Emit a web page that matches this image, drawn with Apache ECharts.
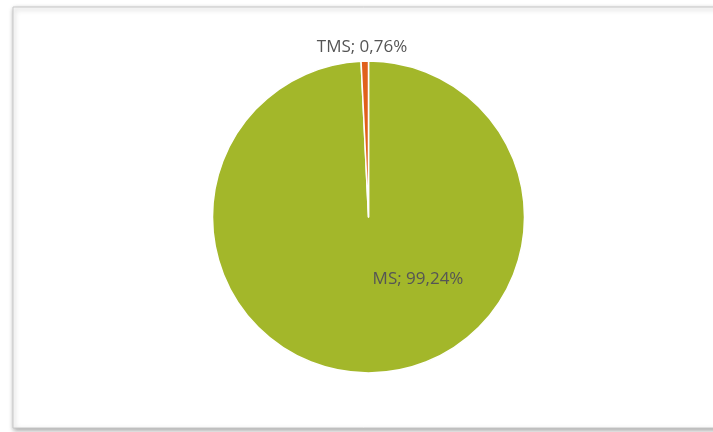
<!DOCTYPE html>
<html>
<head>
<meta charset="utf-8">
<script src="https://cdn.jsdelivr.net/npm/echarts@6/dist/echarts.min.js"></script>
<style>
html,body{margin:0;padding:0;background:#fff;}
#chart{width:713px;height:432px;}
</style>
</head>
<body>
<div id="chart"></div>
<script>
var categories = ['MS', 'TMS'];
var values = [99.24, 0.76];
var colors = ['#a3b72a', '#e0601c'];
var labelPos = [[418, 279], [362, 47]];

var data = categories.map(function (c, i) {
  return { name: c, value: values[i], itemStyle: { color: colors[i] } };
});

function fmt(v) { return v.toFixed(2).replace('.', ','); }

var chart = echarts.init(document.getElementById('chart'));
chart.setOption({
  animation: false,
  graphic: [{
    type: 'rect',
    shape: { x: 13, y: 7, width: 720, height: 421 },
    style: {
      fill: '#fff', stroke: '#c8c8c8', lineWidth: 1,
      shadowBlur: 5, shadowColor: 'rgba(0,0,0,0.35)', shadowOffsetX: 1, shadowOffsetY: 2
    },
    z: -10
  }],
  series: [{
    type: 'pie',
    center: [368.5, 217],
    radius: 156,
    startAngle: 90,
    clockwise: true,
    data: data,
    itemStyle: { borderColor: '#fff', borderWidth: 1.5 },
    label: {
      show: true,
      formatter: function (p) { return p.name + '; ' + fmt(p.value) + '%'; },
      fontFamily: '"Open Sans", Lato, sans-serif',
      fontSize: 17,
      color: '#555555',
      align: 'center',
      verticalAlign: 'middle'
    },
    labelLine: { show: false },
    labelLayout: function (params) {
      var p = labelPos[params.dataIndex];
      return { x: p[0], y: p[1], align: 'center', verticalAlign: 'middle' };
    },
    emphasis: { disabled: true }
  }]
});
</script>
</body>
</html>
